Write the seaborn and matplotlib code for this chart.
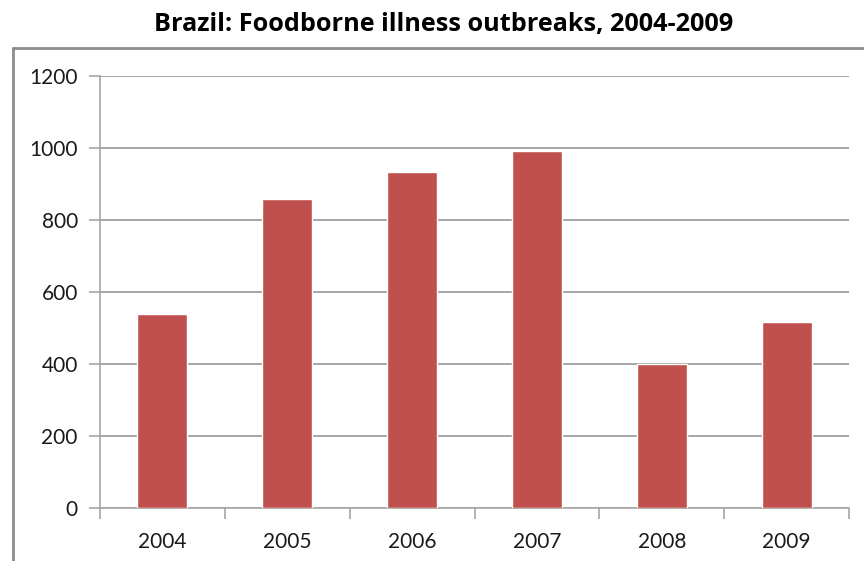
import matplotlib
matplotlib.use("Agg")
import matplotlib.pyplot as plt
from matplotlib.lines import Line2D
import seaborn as sns
import pandas as pd
import numpy as np

years = ["2004", "2005", "2006", "2007", "2008", "2009"]
outbreaks = [539, 857, 932, 991, 400, 517]
y_ticks = [0, 200, 400, 600, 800, 1000, 1200]

sns.set_theme(style="white")
plt.rcParams["font.family"] = ["Lato", "DejaVu Sans"]

df = pd.DataFrame({"year": years, "outbreaks": outbreaks})

fig = plt.figure(figsize=(8.64, 5.61), dpi=100)
ax = fig.add_axes([100 / 864, 1 - 508 / 561, 749 / 864, 432 / 561])

grid_c = "#a6a6a6"
ax.set_axisbelow(True)
ax.yaxis.grid(True, color=grid_c, linewidth=1.4)

sns.barplot(data=df, x="year", y="outbreaks", color="#C0504D", width=0.4,
            saturation=1, ax=ax, zorder=3)

ax.set_ylim(0, 1200)
ax.set_yticks(y_ticks)
ax.set_xlim(-0.5, len(years) - 0.5)
ax.set_xlabel("")
ax.set_ylabel("")

for side in ["top", "right"]:
    ax.spines[side].set_visible(False)
for side in ["left", "bottom"]:
    ax.spines[side].set_color(grid_c)
    ax.spines[side].set_linewidth(1.2)

ax.tick_params(axis="y", which="major", length=8, width=1.2, color=grid_c,
               labelsize=15, labelcolor="#1a1a1a", pad=8, left=True)
ax.tick_params(axis="x", which="major", length=0, labelsize=15,
               labelcolor="#1a1a1a", pad=17, bottom=True)
ax.set_xticks(np.arange(-0.5, len(years)), minor=True)
ax.tick_params(axis="x", which="minor", length=8, width=1.2, color=grid_c,
               bottom=True)

fig.text(444 / 864, 1 - 31 / 561, "Brazil: Foodborne illness outbreaks, 2004-2009",
         ha="center", va="baseline", fontsize=18.2, fontweight="bold",
         color="black", family=["Open Sans", "DejaVu Sans"])

# chart-area frame
frame_c = "#8c8c8c"
fig.add_artist(Line2D([13 / 864, 13 / 864], [0, 1 - 48 / 561],
                      transform=fig.transFigure, color=frame_c, linewidth=2))
fig.add_artist(Line2D([13 / 864, 1], [1 - 48 / 561, 1 - 48 / 561],
                      transform=fig.transFigure, color=frame_c, linewidth=2))

fig.savefig("out.png", dpi=100)
